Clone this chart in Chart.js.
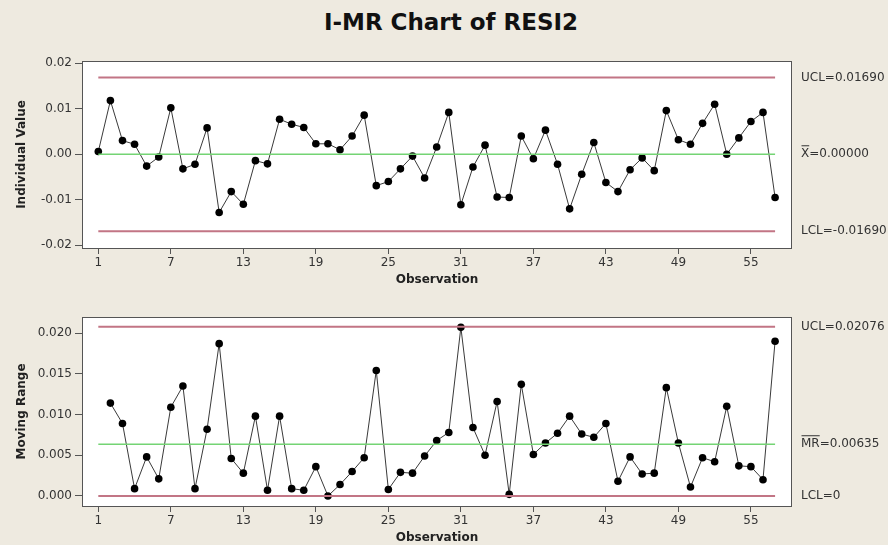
<!DOCTYPE html>
<html>
<head>
<meta charset="utf-8">
<script src="https://cdn.jsdelivr.net/npm/chart.js@4"></script>
<style>
  body { margin: 0; background: #eeeae0; }
  #wrap { position: relative; width: 888px; height: 545px; background: #eeeae0; overflow: hidden; }
  #title { position: absolute; left: 0; width: 902px; top: 9px; text-align: center;
           font: bold 23px "DejaVu Sans", Verdana, sans-serif; color: #111; }
  canvas { position: absolute; left: 0; }
  #c1 { top: 40px; }
  #c2 { top: 290px; }
</style>
</head>
<body>
<div id="wrap">
  <div id="title">I-MR Chart of RESI2</div>
  <canvas id="c1" width="888" height="250"></canvas>
  <canvas id="c2" width="888" height="255"></canvas>
</div>
<script>
// residuals, observations 1..57
const individual = [
  0.0006, 0.0118, 0.0030, 0.0022, -0.0026, -0.0006, 0.0102, -0.0032, -0.0022, 0.0058,
  -0.0128, -0.0082, -0.0110, -0.0014, -0.0021, 0.0077, 0.0066, 0.0059, 0.0023, 0.0023,
  0.0010, 0.0040, 0.0086, -0.0069, -0.0060, -0.0032, -0.0004, -0.0052, 0.0016, 0.0092,
  -0.0111, -0.0028, 0.0020, -0.0094, -0.0095, 0.0040, -0.0010, 0.0053, -0.0022, -0.0120,
  -0.0044, 0.0026, -0.0062, -0.0082, -0.0034, -0.0008, -0.0036, 0.0096, 0.0032, 0.0022,
  0.0068, 0.0110, 0.0000, 0.0036, 0.0072, 0.0092, -0.0095
];

// moving ranges, observations 2..57
const movingRange = [
  0.0114, 0.0089, 0.0009, 0.0048, 0.0021, 0.0109, 0.0135, 0.0009, 0.0082,
  0.0187, 0.0046, 0.0028, 0.0098, 0.0007, 0.0098, 0.0009, 0.0007, 0.0036, 0.0000,
  0.0014, 0.0030, 0.0047, 0.0154, 0.0008, 0.0029, 0.0028, 0.0049, 0.0068, 0.0078,
  0.0207, 0.0084, 0.0050, 0.0116, 0.0002, 0.0137, 0.0051, 0.0065, 0.0077, 0.0098,
  0.0076, 0.0072, 0.0089, 0.0018, 0.0048, 0.0027, 0.0028, 0.0133, 0.0065, 0.0011,
  0.0047, 0.0042, 0.0110, 0.0037, 0.0036, 0.0020, 0.0190
];

const iLimits = { ucl: 0.01690, center: 0.00000, lcl: -0.01690 };
const mrLimits = { ucl: 0.02076, center: 0.00635, lcl: 0 };

const obsTicks = [1, 7, 13, 19, 25, 31, 37, 43, 49, 55];
const iTicks = [-0.02, -0.01, 0.00, 0.01, 0.02];
const mrTicks = [0.000, 0.005, 0.010, 0.015, 0.020];

const FONT = '"DejaVu Sans", Verdana, sans-serif';
const AXIS_COLOR = '#555';
const LIMIT_COLOR = '#c27585';
const CENTER_COLOR = '#74d474';

function hLine(y, color, width) {
  return {
    data: [{ x: 1, y: y }, { x: individual.length, y: y }],
    borderColor: color,
    borderWidth: width,
    pointRadius: 0,
    fill: false
  };
}

// white plot area with a dark frame, plus the limit labels on the right
function frameAndLabels(labels) {
  return {
    id: 'frameAndLabels',
    beforeDraw(chart) {
      const a = chart.chartArea, ctx = chart.ctx;
      ctx.save();
      ctx.fillStyle = '#ffffff';
      ctx.fillRect(a.left, a.top, a.right - a.left, a.bottom - a.top);
      ctx.restore();
    },
    afterDraw(chart) {
      const a = chart.chartArea, ctx = chart.ctx;
      ctx.save();
      ctx.strokeStyle = AXIS_COLOR;
      ctx.lineWidth = 1;
      ctx.strokeRect(a.left + 0.5, a.top + 0.5, a.right - a.left - 1, a.bottom - a.top);
      ctx.font = '12px ' + FONT;
      ctx.fillStyle = '#333';
      ctx.textBaseline = 'middle';
      const yScale = chart.scales.y;
      labels.forEach(l => {
        const y = yScale.getPixelForValue(l.value);
        const x = a.right + 9;
        ctx.fillText(l.name + '=' + l.text, x, y);
        if (l.bar) {
          // overline across the statistic name
          const w = ctx.measureText(l.name).width;
          ctx.beginPath();
          ctx.moveTo(x + 0.5, y - 8.5);
          ctx.lineTo(x + w, y - 8.5);
          ctx.strokeStyle = '#333';
          ctx.stroke();
        }
      });
      ctx.restore();
    }
  };
}

function makeChart(id, opts) {
  const points = opts.values.map((v, i) => ({ x: i + opts.firstObs, y: v }));
  return new Chart(document.getElementById(id), {
    type: 'line',
    data: {
      datasets: [
        hLine(opts.limits.ucl, LIMIT_COLOR, 2),
        hLine(opts.limits.lcl, LIMIT_COLOR, 2),
        hLine(opts.limits.center, CENTER_COLOR, 1.5),
        {
          data: points,
          borderColor: '#3a3a3a',
          borderWidth: 1,
          pointRadius: 3.8,
          pointBackgroundColor: '#000',
          pointBorderColor: '#000',
          pointBorderWidth: 0,
          fill: false
        }
      ]
    },
    options: {
      responsive: false,
      animation: false,
      events: [],
      layout: { padding: { top: opts.padTop, right: 96, left: 0, bottom: 0 } },
      plugins: { legend: { display: false }, tooltip: { enabled: false } },
      scales: {
        x: {
          type: 'linear',
          min: -0.35,
          max: 58.4,
          afterBuildTicks: s => { s.ticks = obsTicks.map(v => ({ value: v })); },
          afterFit: s => { s.height = opts.xHeight; },
          grid: { drawOnChartArea: false, drawTicks: true, tickLength: 6, color: AXIS_COLOR },
          border: { display: false },
          ticks: { color: '#333', font: { family: FONT, size: 12 }, padding: 2, maxRotation: 0 },
          title: {
            display: true,
            text: 'Observation',
            color: '#222',
            font: { family: FONT, size: 12, weight: 'bold' },
            padding: { top: 0, bottom: opts.xTitlePad }
          }
        },
        y: {
          min: opts.yMin,
          max: opts.yMax,
          afterBuildTicks: s => { s.ticks = opts.yTicks.map(v => ({ value: v })); },
          afterFit: s => { s.width = 82; },
          grid: { drawOnChartArea: false, drawTicks: true, tickLength: 7, color: AXIS_COLOR },
          border: { display: false },
          ticks: {
            color: '#333',
            font: { family: FONT, size: 12 },
            padding: 3,
            callback: v => v.toFixed(opts.digits)
          },
          title: {
            display: true,
            text: opts.yTitle,
            color: '#222',
            font: { family: FONT, size: 12, weight: 'bold' },
            padding: { top: 15, bottom: 0 }
          }
        }
      }
    },
    plugins: [frameAndLabels(opts.labels)]
  });
}

makeChart('c1', {
  values: individual,
  firstObs: 1,
  limits: iLimits,
  yMin: -0.0206,
  yMax: 0.0205,
  yTicks: iTicks,
  digits: 2,
  yTitle: 'Individual Value',
  padTop: 21,
  xHeight: 42,
  xTitlePad: 3,
  labels: [
    { name: 'UCL', text: iLimits.ucl.toFixed(5), value: iLimits.ucl },
    { name: 'X', text: iLimits.center.toFixed(5), value: iLimits.center, bar: true },
    { name: 'LCL', text: iLimits.lcl.toFixed(5), value: iLimits.lcl }
  ]
});

makeChart('c2', {
  values: movingRange,
  firstObs: 2,
  limits: mrLimits,
  yMin: -0.00123,
  yMax: 0.02197,
  yTicks: mrTicks,
  digits: 3,
  yTitle: 'Moving Range',
  padTop: 27,
  xHeight: 39,
  xTitlePad: 0,
  labels: [
    { name: 'UCL', text: mrLimits.ucl.toFixed(5), value: mrLimits.ucl },
    { name: 'MR', text: mrLimits.center.toFixed(5), value: mrLimits.center, bar: true },
    { name: 'LCL', text: String(mrLimits.lcl), value: mrLimits.lcl }
  ]
});
</script>
</body>
</html>
